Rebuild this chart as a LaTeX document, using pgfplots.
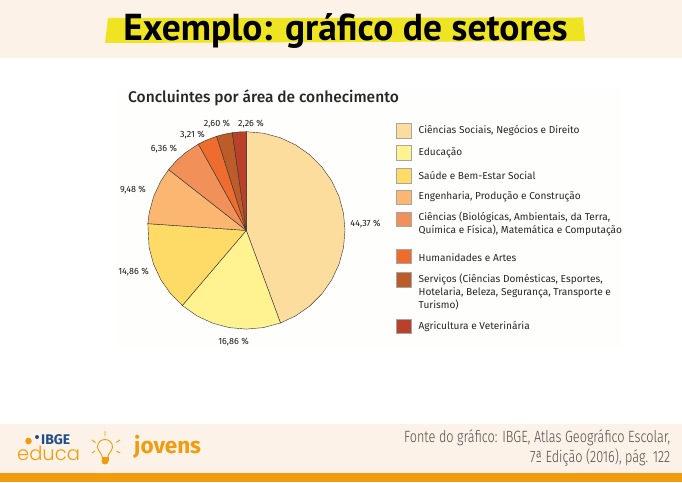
\documentclass[border=0pt]{standalone}
\usepackage{pgfplots}
\pgfplotsset{compat=1.18}
\usepackage{fontspec}
\setmainfont{Fira Sans}
\newfontfamily\titlef{PT Sans}
\newfontfamily\medf{Fira Sans Medium}
\newfontfamily\footf[FakeStretch=0.78]{Fira Sans Light}
\newfontfamily\educaf{Poppins Light}
\definecolor{bgcream}{HTML}{FDF2E7}
\definecolor{barora}{HTML}{F19C0F}
\definecolor{hl}{HTML}{EEE421}
\definecolor{panel}{HTML}{FEFEFC}
\definecolor{sA}{HTML}{FCDD9E}
\definecolor{sB}{HTML}{FEF291}
\definecolor{sC}{HTML}{FEDA66}
\definecolor{sD}{HTML}{FBB671}
\definecolor{sE}{HTML}{F29059}
\definecolor{sF}{HTML}{EE6C2D}
\definecolor{sG}{HTML}{BC5C28}
\definecolor{sH}{HTML}{B9412A}
\definecolor{ibgeblue}{HTML}{1F4E8C}
\begin{document}
\begin{tikzpicture}
\begin{axis}[name=bg,at={(0,0)},anchor=south west,scale only axis,width=682pt,height=482pt,
  xmin=0,xmax=682,ymin=0,ymax=482,axis lines=none,clip=false]
% bands
\fill[bgcream] (axis cs:0,482) rectangle (axis cs:682,424);
\fill[bgcream] (axis cs:0,58) rectangle (axis cs:682,9);
\fill[barora] (axis cs:0,9) rectangle (axis cs:682,0);
\fill[panel] (axis cs:116,394) rectangle (axis cs:623,134);
% title
\fill[hl] (axis cs:108,464) -- (axis cs:583,464.5) -- (axis cs:585,441) -- (axis cs:105,439) -- cycle;
\node[font=\titlef\bfseries\fontsize{37.5}{38}\selectfont,anchor=base,inner sep=0] at (axis cs:345.5,441.5) {Exemplo: gráfico de setores};
% chart title
\node[font=\medf\fontsize{15.5}{16}\selectfont,text=black!85,anchor=base west,inner sep=0] at (axis cs:128,379.5) {Concluintes por área de conhecimento};
% value labels
\tikzset{vl/.style={font=\fontsize{9}{10}\selectfont,text=black!90,inner sep=0,anchor=center}}
\node[vl] at (axis cs:365.5,258) {44,37 \%};
\node[vl] at (axis cs:233.5,140) {16,86 \%};
\node[vl] at (axis cs:133.5,210) {14,86 \%};
\node[vl] at (axis cs:133,291.5) {9,48 \%};
\node[vl] at (axis cs:164,333) {6,36 \%};
\node[vl] at (axis cs:192.5,347) {3,21 \%};
\node[vl] at (axis cs:217,358) {2,60 \%};
\node[vl] at (axis cs:251,358) {2,26 \%};
% legend
\tikzset{sw/.style={draw=black!35,line width=0.4pt},
 lt/.style={font=\fontsize{10.1}{13.3}\selectfont,text=black!85,inner sep=0,anchor=west,align=left}}
\filldraw[sw,fill=sA] (axis cs:396,359) rectangle (axis cs:411,344);
\node[lt] at (axis cs:418.5,351) {Ciências Sociais, Negócios e Direito};
\filldraw[sw,fill=sB] (axis cs:396,337) rectangle (axis cs:411,322);
\node[lt] at (axis cs:418.5,329) {Educação};
\filldraw[sw,fill=sC] (axis cs:396,314) rectangle (axis cs:411,299);
\node[lt] at (axis cs:418.5,306) {Saúde e Bem-Estar Social};
\filldraw[sw,fill=sD] (axis cs:396,292) rectangle (axis cs:411,278);
\node[lt] at (axis cs:418.5,285) {Engenharia, Produção e Construção};
\filldraw[sw,fill=sE] (axis cs:396,270) rectangle (axis cs:411,256);
\node[lt] at (axis cs:418.5,258) {Ciências (Biológicas, Ambientais, da Terra,\\Química e Física), Matemática e Computação};
\filldraw[sw,fill=sF] (axis cs:396,233) rectangle (axis cs:411,219);
\node[lt] at (axis cs:418.5,224.5) {Humanidades e Artes};
\filldraw[sw,fill=sG] (axis cs:396,210) rectangle (axis cs:411,195);
\node[lt] at (axis cs:418.5,190) {Serviços (Ciências Domésticas, Esportes,\\Hotelaria, Beleza, Segurança, Transporte e\\Turismo)};
\filldraw[sw,fill=sH] (axis cs:396,163) rectangle (axis cs:411,149);
\node[lt] at (axis cs:418.5,155.5) {Agricultura e Veterinária};
% footer
\node[font=\footf\fontsize{16.3}{20.5}\selectfont,text=black!70,anchor=east,align=right,inner sep=0] at (axis cs:670.5,34) {Fonte do gráfico: IBGE, Atlas Geográfico Escolar,\\7ª Edição (2016), pág. 122};
% logos
\node[font=\fontsize{14}{14}\selectfont\bfseries,text=ibgeblue,anchor=base west,inner sep=0] at (axis cs:41,38) {IBGE};
\fill[barora] (axis cs:28.5,41) circle[radius=3.3pt];
\fill[ibgeblue] (axis cs:37,45) circle[radius=2pt];
\node[font=\educaf\fontsize{19.5}{20}\selectfont,text=barora,anchor=base west,inner sep=0] at (axis cs:17,22) {educa};
\node[font=\fontsize{22.5}{23}\selectfont\bfseries,text=barora,anchor=base west,inner sep=0] at (axis cs:134,29) {jovens};
% bulb
\draw[barora,line width=0.9pt] (axis cs:102.5,24) .. controls (axis cs:102,29) and (axis cs:97.5,31) .. (axis cs:97.5,35) .. controls (axis cs:97.5,45) and (axis cs:112.5,45) .. (axis cs:112.5,35) .. controls (axis cs:112.5,31) and (axis cs:108,29) .. (axis cs:107.5,24);
\fill[barora] (axis cs:101.5,25) rectangle (axis cs:108.5,21);
\fill[barora] (axis cs:105,21) circle[radius=3.5pt];
\draw[barora,line width=0.9pt] (axis cs:105,46) -- (axis cs:105,51)
 (axis cs:92,42) -- (axis cs:95.5,39.5) (axis cs:120,42) -- (axis cs:116,39.5)
 (axis cs:92,29) -- (axis cs:95,31) (axis cs:120,29) -- (axis cs:116.5,31);
\end{axis}
\begin{axis}[at={(0,0)},anchor=south west,scale only axis,width=682pt,height=482pt,
  xmin=-246.3,xmax=435.7,ymin=-251.6,ymax=230.4,axis lines=none,data cs=polar,
  every axis plot/.style={draw=black!80,line width=0.4pt}]
\addplot[fill=sA] coordinates {(0,0)(90,98.7)(80,98.7)(70,98.7)(60,98.7)(50,98.7)(40,98.7)(30,98.7)(20,98.7)(10,98.7)(0,98.7)(-10,98.7)(-20,98.7)(-30,98.7)(-40,98.7)(-50,98.7)(-60,98.7)(-69.73,98.7)(0,0)};
\addplot[fill=sB] coordinates {(0,0)(-69.73,98.7)(-80,98.7)(-90,98.7)(-100,98.7)(-110,98.7)(-120,98.7)(-130.43,98.7)(0,0)};
\addplot[fill=sC] coordinates {(0,0)(-130.43,98.7)(-140,98.7)(-150,98.7)(-160,98.7)(-170,98.7)(-183.92,98.7)(0,0)};
\addplot[fill=sD] coordinates {(0,0)(-183.92,98.7)(-190,98.7)(-200,98.7)(-210,98.7)(-218.05,98.7)(0,0)};
\addplot[fill=sE] coordinates {(0,0)(-218.05,98.7)(-225,98.7)(-232,98.7)(-240.95,98.7)(0,0)};
\addplot[fill=sF] coordinates {(0,0)(-240.95,98.7)(-246,98.7)(-252.5,98.7)(0,0)};
\addplot[fill=sG] coordinates {(0,0)(-252.5,98.7)(-257,98.7)(-261.86,98.7)(0,0)};
\addplot[fill=sH] coordinates {(0,0)(-261.86,98.7)(-266,98.7)(-270,98.7)(0,0)};
\end{axis}
\end{tikzpicture}
\end{document}
